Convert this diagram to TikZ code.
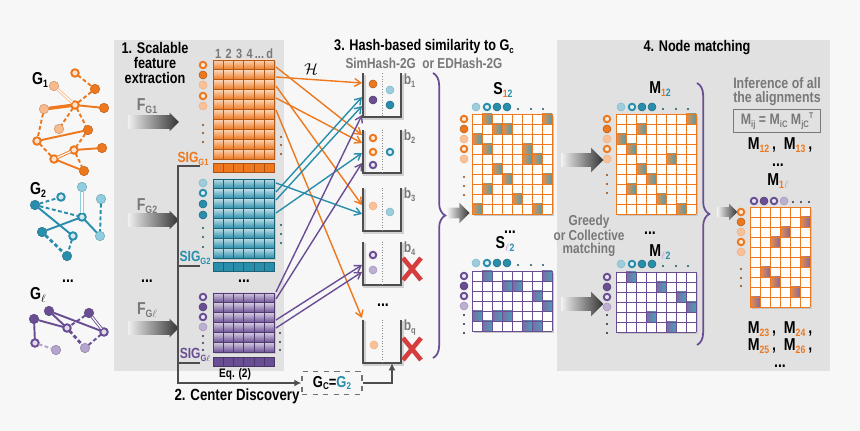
\documentclass[tikz,border=0pt]{standalone}
\usepackage{fontspec}
\setmainfont{Liberation Sans}[FakeStretch=0.82]
\usetikzlibrary{arrows.meta,positioning,shapes.arrows,decorations.pathreplacing}
\definecolor{bgGray}{RGB}{247,247,247}
\definecolor{panelGray}{RGB}{225,225,225}
\definecolor{hashOrange}{RGB}{238,120,30}
\definecolor{hashOrangeLight}{RGB}{249,186,140}
\definecolor{hashTeal}{RGB}{40,142,172}
\definecolor{hashTealLight}{RGB}{142,206,224}
\definecolor{hashPurple}{RGB}{106,78,148}
\definecolor{hashPurpleLight}{RGB}{180,164,206}
\definecolor{hashGrayText}{RGB}{120,120,120}
\definecolor{hashLine}{RGB}{78,78,78}
\definecolor{hashRed}{RGB}{214,62,62}

\newcommand{\dn}[1]{\raisebox{-0.35ex}{\scalebox{0.62}{#1}}}
\newcommand{\up}[1]{\raisebox{0.85ex}{\scalebox{0.55}{#1}}}
% feature matrix: x, y, last row, fill, lines
\newcommand{\featmat}[5]{%
  \fill[black!22] (#1+1.5,#2+1.5) rectangle ++(61.8,#3*9.9+9.9);
  \foreach \c in {0,...,5}
    \foreach \r in {0,...,#3}
      \draw[#5,line width=0.5pt,top color=#4!30!white,bottom color=#4]
        (#1+\c*10.3,#2+\r*9.9) rectangle ++(10.3,9.9);
}
% signature bar: x, y, fill, lines
\newcommand{\sigbar}[4]{%
  \foreach \c in {0,...,5}
    \draw[#4,line width=0.5pt,fill=#3] (#1+\c*10.3,#2) rectangle ++(10.3,9);
}
% alignment matrix: x, y, columns, rows, colour A, colour B, marked cells
\newcommand{\simmat}[7]{%
  \fill[black!22] (#1+2,#2+2) rectangle ++(#3*10,#4*10);
  \fill[white] (#1,#2) rectangle ++(#3*10,#4*10);
  \foreach \c/\r in {#7}
    \shade[left color=#5!85!white,right color=#6!85!white] (#1+\c*10,#2+\r*10) rectangle ++(10,10);
  \foreach \i in {0,...,#3}
    \draw[#6,line width=0.4pt] (#1+\i*10+0.7,#2) -- ++(0,#4*10);
  \foreach \j in {0,...,#4}
    \draw[#6,line width=0.4pt] (#1,#2+\j*10+0.7) -- ++(#3*10,0);
  \foreach \i in {0,...,#3}
    \draw[#5,line width=0.4pt] (#1+\i*10,#2) -- ++(0,#4*10);
  \foreach \j in {0,...,#4}
    \draw[#5,line width=0.4pt] (#1,#2+\j*10) -- ++(#3*10,0);
}

\begin{document}
\begin{tikzpicture}[x=0.02cm,y=-0.02cm,
  gn/.style={circle,inner sep=0pt,outer sep=0pt,minimum size=0.19cm,fill=#1,draw=#1!80!black,line width=0.3pt},
  gr/.style={circle,inner sep=0pt,outer sep=0pt,minimum size=0.15cm,fill=#1!20!white,draw=#1,line width=1.1pt},
  gline/.style={line width=1.1pt},
  gdash/.style={line width=1.1pt,dash pattern=on 2.2pt off 1.4pt},
  gdouble/.style={double=white,double distance=0.7pt,line width=0.5pt},
  mf/.style={circle,inner sep=0pt,outer sep=0pt,minimum size=0.16cm,fill=#1,draw=#1!75!black,line width=0.3pt},
  ml/.style={circle,inner sep=0pt,outer sep=0pt,minimum size=0.16cm,fill=#1!45!white,draw=#1!60!white,line width=0.3pt},
  mo/.style={circle,inner sep=0pt,outer sep=0pt,minimum size=0.13cm,fill=#1!15!white,draw=#1,line width=1.1pt},
  ttl/.style={font=\bfseries\fontsize{8.8}{8.3}\selectfont,align=center,inner sep=0pt},
  gtxt/.style={font=\bfseries\fontsize{8.2}{7.6}\selectfont,text=hashGrayText,align=center,inner sep=0pt},
  big/.style={font=\bfseries\fontsize{9.8}{10}\selectfont,inner sep=0pt},
  sml/.style={font=\bfseries\fontsize{7.6}{8}\selectfont,inner sep=0pt},
  fat/.style={single arrow,draw=none,inner xsep=0pt,outer sep=0pt,left color=black!6,right color=black!80},
  sigline/.style={hashLine,line width=1pt},
  hasharrow/.style={line width=0.8pt,-{Straight Barb[length=3.5pt,width=4.5pt]}},
  bucket/.style={minimum width=0.76cm,minimum height=0.87cm,inner sep=0pt,outer sep=0pt},
  blbl/.style={font=\bfseries\fontsize{8.4}{8}\selectfont,text=hashGrayText,inner sep=0pt,anchor=north west},
  redcross/.style={hashRed,line width=2.6pt},
  gcbox/.style={draw=hashLine!80,dashed,line width=0.8pt,minimum width=1.2cm,minimum height=0.46cm,
    font=\bfseries\fontsize{9}{9}\selectfont,inner sep=0pt},
  fbox/.style={draw=hashGrayText,line width=0.8pt,minimum width=1.74cm,minimum height=0.46cm,
    font=\bfseries\fontsize{8.6}{9}\selectfont,text=hashGrayText,inner sep=0pt}
]
  \useasboundingbox (0,0) rectangle (860,431);
  \fill[bgGray] (0,0) rectangle (860,431);
  \fill[panelGray] (114,40) rectangle (284,371);
  \fill[panelGray] (557,40) rectangle (830,371);

  % input graphs
  \node[big] (g1lbl) at (40,80) {G\dn{1}};
  \node[gr=hashOrange] (g1a) at (75,73) {};
  \node[gn=hashOrange] (g1b) at (95,89) {};
  \node[gn=hashOrangeLight] (g1c) at (54,86) {};
  \node[gr=hashOrange] (g1d) at (75,105) {};
  \node[gn=hashOrangeLight] (g1e) at (44,109) {};
  \node[gn=hashOrange] (g1f) at (104,108) {};
  \node[gn=hashOrangeLight] (g1g) at (59,129) {};
  \node[gn=hashOrange] (g1h) at (88,130) {};
  \node[gr=hashOrange] (g1i) at (37,141) {};
  \node[gr=hashOrange] (g1j) at (74,150) {};
  \node[gn=hashOrange] (g1k) at (102,148) {};
  \node[gr=hashOrange] (g1l) at (54,159) {};
  \node[gn=hashOrange] (g1m) at (84,171) {};
  \draw[gdash,hashOrange] (g1a) -- (g1b);
  \draw[gdouble,hashOrangeLight] (g1c) -- (g1d);
  \draw[gdash,hashOrange] (g1b) -- (g1d);
  \draw[gline,hashOrange,line width=1.9pt] (g1e) -- (g1d);
  \draw[gline,hashOrange] (g1d) -- (g1f);
  \draw[gdash,hashOrange] (g1d) -- (g1g);
  \draw[gdash,hashOrange] (g1d) -- (g1h);
  \draw[gdash,hashOrange] (g1e) -- (g1i);
  \draw[gline,hashOrange] (g1i) -- (g1h);
  \draw[gdash,hashOrange] (g1h) -- (g1j);
  \draw[gline,hashOrange] (g1j) -- (g1k);
  \draw[gdash,hashOrange] (g1i) -- (g1l);
  \draw[gdouble,hashOrange] (g1l) -- (g1j);
  \draw[gdash,hashOrange] (g1j) -- (g1m);
  \draw[gline,hashOrange] (g1l) -- (g1m);

  \node[big] (g2lbl) at (38,190) {G\dn{2}};
  \node[gn=hashTeal] (g2a) at (35,205) {};
  \node[gr=hashTeal] (g2b) at (61,197) {};
  \node[gn=hashTealLight] (g2c) at (82,187) {};
  \node[gn=hashTealLight] (g2d) at (101,199) {};
  \node[gr=hashTeal] (g2e) at (82,217) {};
  \node[gn=hashTeal] (g2f) at (42,232) {};
  \node[gr=hashTeal] (g2g) at (73,236) {};
  \node[gn=hashTealLight] (g2h) at (100,236) {};
  \node[gn=hashTeal] (g2i) at (67,256) {};
  \draw[gdash,hashTeal] (g2a) -- (g2b);
  \draw[gdash,hashTeal] (g2a) -- (g2e);
  \draw[gline,hashTeal] (g2a) -- (g2g);
  \draw[gdouble,hashTealLight,line width=0.8pt] (g2c) -- (g2e);
  \draw[gline,hashTeal] (g2e) -- (g2h);
  \draw[gdash,hashTeal] (g2d) -- (g2h);
  \draw[gline,hashTeal] (g2f) -- (g2e);
  \draw[gdash,hashTeal,line width=1.6pt] (g2f) -- (g2i);
  \draw[gdash,hashTeal] (g2g) -- (g2i);

  \node[big] (gdots) at (68,281) {...};
  \node[big] (g3lbl) at (38,295) {G\dn{$\ell$}};
  \node[gn=hashPurple] (g3a) at (49,311) {};
  \node[gn=hashPurple] (g3b) at (89,313) {};
  \node[gn=hashPurple] (g3c) at (34,319) {};
  \node[gr=hashPurple] (g3d) at (67,328) {};
  \node[gr=hashPurple] (g3e) at (104,332) {};
  \node[gr=hashPurple] (g3f) at (35,343) {};
  \node[gn=hashPurpleLight] (g3g) at (85,348) {};
  \node[gn=hashPurpleLight] (g3h) at (56,350) {};
  \draw[gline,hashPurple] (g3a) -- (g3d);
  \draw[gline,hashPurple] (g3a) -- (g3e);
  \draw[gline,hashPurple] (g3c) -- (g3d);
  \draw[gdash,hashPurple] (g3b) -- (g3d);
  \draw[gdouble,hashPurple] (g3b) -- (g3e);
  \draw[gline,hashPurple] (g3c) -- (g3f);
  \draw[gdash,hashPurpleLight] (g3f) -- (g3h);
  \draw[gdash,hashPurple,line width=1.6pt] (g3d) -- (g3g);
  \draw[gdash,hashPurple] (g3e) -- (g3g);

  % 1. feature extraction
  \node[ttl] (t1) at (155,63) {1. Scalable\\feature\\extraction};
  \node[sml,text=hashGrayText] (cols) at (244,54) {1\,\,2\,\,3\,\,4\,...\,d};
  \featmat{213}{60}{9}{hashOrange}{hashOrange!75!black}
  \sigbar{213}{163}{hashOrange}{hashOrange!70!black}
  \featmat{213}{179}{7}{hashTeal}{hashTeal!70!black}
  \sigbar{213}{262}{hashTeal}{hashTeal!70!black}
  \featmat{213}{293}{5}{hashPurple}{hashPurple!75!black}
  \sigbar{213}{357}{hashPurple}{hashPurple!70!black}
  \foreach \s/\y [count=\k] in {mo/65,mf/75,ml/85,mo/96,ml/106}
    \node[\s=hashOrange] (fo\k) at (203,\y) {};
  \foreach \s/\y [count=\k] in {ml/183,mo/193,mf/204,mf/215}
    \node[\s=hashTeal] (ft\k) at (203,\y) {};
  \foreach \s/\y [count=\k] in {mo/297,mf/307,mo/317,ml/327}
    \node[\s=hashPurple] (fp\k) at (203,\y) {};
  \foreach \y in {125,133,142} \fill[hashOrange!60!black] (203,\y) circle (1.1);
  \foreach \y in {228,237,247} \fill[hashTeal!60!black] (203,\y) circle (1.1);
  \foreach \y in {336,343,350} \fill[hashPurple!60!black] (203,\y) circle (1.1);
  \foreach \y in {137,145,154} \fill[hashOrange!60!black] (281,\y) circle (1.1);
  \foreach \y in {225,234,243} \fill[hashTeal!60!black] (281,\y) circle (1.1);
  \foreach \y in {333,342,350} \fill[hashPurple!60!black] (280,\y) circle (1.1);
  \node[big] (fdots) at (147,281) {...};
  \node[big] (mdots) at (244,281) {...};

  \node[fat,inner ysep=0.13cm,single arrow head extend=0.05cm,minimum height=1.02cm] (fg1) at (150,122) {};
  \node[fat,inner ysep=0.13cm,single arrow head extend=0.05cm,minimum height=1.02cm] (fg2) at (150,220) {};
  \node[fat,inner ysep=0.13cm,single arrow head extend=0.05cm,minimum height=1.02cm] (fg3) at (150,328) {};
  \node[big,text=hashGrayText] (fg1l) at (147,106) {F\dn{G1}};
  \node[big,text=hashGrayText] (fg2l) at (147,206) {F\dn{G2}};
  \node[big,text=hashGrayText] (fg3l) at (147,310) {F\dn{G$\ell$}};

  % 2. center discovery
  \node[sml,text=hashOrange,font=\bfseries\fontsize{8.4}{8}\selectfont] (sig1l) at (193,159) {SIG\dn{G1}};
  \node[sml,text=hashTeal,font=\bfseries\fontsize{8.4}{8}\selectfont] (sig2l) at (195,258) {SIG\dn{G2}};
  \node[sml,text=hashPurple,font=\bfseries\fontsize{8.4}{8}\selectfont] (sig3l) at (195,355) {SIG\dn{G$\ell$}};
  \coordinate (sig1) at (200,166);
  \coordinate (sig2) at (200,266);
  \coordinate (sig3) at (200,363);
  \coordinate (spine) at (178,383);
  \node[gcbox] (gc) at (332,383) {G\dn{C}=\textcolor{hashTeal}{G\dn{2}}};
  \draw[sigline,-{Latex[length=4pt,width=4pt]}] (sig1) -| (spine) -- (gc.west);
  \draw[sigline] (sig2) -- (sig2 -| spine);
  \draw[sigline] (sig3) -- (sig3 -| spine);
  \node[sml,font=\bfseries\fontsize{7}{7}\selectfont] (eq) at (235,374) {Eq. (2)};
  \node[ttl,font=\bfseries\fontsize{9.2}{9}\selectfont] (t2) at (237,396) {2. Center Discovery};

  % 3. hashing into buckets
  \node[ttl] (t3) at (424,47) {3. Hash-based similarity to G\dn{c}};
  \node[gtxt] (t3b) at (424,63) {SimHash-2G\ \ or EDHash-2G};
  \node[font=\fontsize{9}{9}\selectfont] (hsym) at (311,69) {$\mathcal{H}$};
  \foreach \ys/\ye/\cl [count=\k] in {67/135/hashOrange,77/83/hashOrange,86/205/hashOrange,98/143/hashOrange,
      110/318/hashOrange,183/214/hashTeal,192/97/hashTeal,200/106/hashTeal,213/153/hashTeal,
      292/115/hashPurple,299/163/hashPurple,320/265/hashPurple,328/272/hashPurple}{
    \coordinate (hs\k) at (276,\ys);
    \coordinate (he\k) at (362,\ye);
    \draw[hasharrow,\cl] (hs\k) -- (he\k);
  }
  \node[bucket] (b1) at (382,95) {};
  \node[bucket] (b2) at (382,151.5) {};
  \node[bucket] (b3) at (382,209.5) {};
  \node[bucket] (b4) at (382,263.5) {};
  \node[bucket] (bq) at (382,341.5) {};
  \foreach \b in {b1,b2,b3,b4,bq}{
    \draw[black!18,line width=1.6pt] ([shift={(1.5,1.5)}]\b.north west) -- ([shift={(1.5,1.5)}]\b.south west)
      -- ([shift={(1.5,1.5)}]\b.south east) -- ([shift={(1.5,1.5)}]\b.north east);
    \draw[hashLine,line width=1.1pt] (\b.north west) -- (\b.south west) -- (\b.south east) -- (\b.north east);
    \draw[black!45,densely dotted,line width=0.5pt] (\b.north) -- (\b.south);
  }
  \node[blbl] (b1l) at ([xshift=0.05cm]b1.north east) {b\dn{1}};
  \node[blbl] (b2l) at ([xshift=0.05cm]b2.north east) {b\dn{2}};
  \node[blbl] (b3l) at ([xshift=0.05cm]b3.north east) {b\dn{3}};
  \node[blbl] (b4l) at ([xshift=0.05cm]b4.north east) {b\dn{4}};
  \node[blbl] (bql) at ([xshift=0.05cm]bq.north east) {b\dn{q}};
  \node[big] (bdots) at (383,305) {...};
  \node[mf=hashOrange] (c1) at (373,84) {};
  \node[mf=hashPurple] (c2) at (373,100) {};
  \node[ml=hashTeal] (c3) at (390,90) {};
  \node[mf=hashTeal] (c4) at (390,105) {};
  \node[mo=hashOrange] (c5) at (373,138) {};
  \node[mo=hashOrange] (c6) at (373,152) {};
  \node[mo=hashPurple] (c7) at (373,165) {};
  \node[mo=hashTeal] (c8) at (390,152) {};
  \node[ml=hashOrange] (c9) at (373,206) {};
  \node[ml=hashTeal] (c10) at (390,212) {};
  \node[mo=hashPurple] (c11) at (373,255) {};
  \node[ml=hashPurple] (c12) at (373,270) {};
  \node[ml=hashOrange] (c13) at (374,345) {};
  \coordinate (x4) at (412,269);
  \coordinate (xq) at (412,349);
  \foreach \x in {x4,xq}
    \draw[redcross] ([shift={(-9,-11)}]\x) -- ([shift={(9,11)}]\x) ([shift={(9,-11)}]\x) -- ([shift={(-9,11)}]\x);
  \draw[sigline,-{Latex[length=4pt,width=4pt]}] (gc.east) -| ([xshift=0.2cm]bq.south);
  \draw[hashPurple,line width=1pt,decorate,decoration={brace,amplitude=7pt}] (433,73) -- (433,358);
  \node[fat,inner ysep=0.1cm,single arrow head extend=0.1cm,minimum height=0.44cm] (toS) at (456,213) {};

  % similarity matrices
  \node[big] (s12) at (503,90) {S\dn{\textcolor{hashOrange}{1}\textcolor{hashTeal}{2}}};
  \simmat{472}{114}{8}{10}{hashOrange}{hashTeal}{1/0,7/0,2/1,3/1,0/2,1/3,5/3,5/4,6/4,2/5,3/6,7/6,1/7,4/8,0/9,6/9}
  \node[big] (sdots) at (510,232) {...};
  \node[big] (sl2) at (505,244) {S\dn{\textcolor{hashPurpleLight}{$\ell$}\textcolor{hashTeal}{2}}};
  \simmat{472}{271}{8}{6}{hashPurple}{hashTeal}{1/0,7/0,3/1,4/1,6/2,7/3,0/4,2/4,3/4,1/5,5/5,6/5}
  \foreach \s/\x [count=\k] in {ml/476,mo/487,mf/497,mf/507}{
    \node[\s=hashTeal] (sh\k) at (\x,107) {};
    \node[\s=hashTeal] (slh\k) at (\x,263) {};
    \node[\s=hashTeal] (mh\k) at (\x+145,107) {};
    \node[\s=hashTeal] (mlh\k) at (\x+145,264) {};
  }
  \foreach \x in {518,531,543} {
    \fill[hashTeal!60!black] (\x,109) circle (1.1);
    \fill[hashTeal!60!black] (\x,265) circle (1.1);
    \fill[hashTeal!60!black] (\x+145,109) circle (1.1);
    \fill[hashTeal!60!black] (\x+145,266) circle (1.1);
  }
  \foreach \s/\y [count=\k] in {mo/119,mf/129,ml/139,mo/149,ml/159}{
    \node[\s=hashOrange] (sr\k) at (464,\y) {};
    \node[\s=hashOrange] (mr\k) at (607,\y) {};
  }
  \foreach \s/\y [count=\k] in {mo/276,mf/286,mo/296,ml/306}{
    \node[\s=hashPurple] (slr\k) at (464,\y) {};
    \node[\s=hashPurple] (mlr\k) at (607,\y+1) {};
  }
  \foreach \y in {177,186,195} {
    \fill[hashOrange!60!black] (464,\y) circle (1.1);
    \fill[hashOrange!60!black] (607,\y-2) circle (1.1);
  }
  \foreach \y in {315,324,333} {
    \fill[hashPurple!40!black] (464,\y) circle (1.1);
    \fill[hashPurple!40!black] (607,\y) circle (1.1);
  }
  \node[fat,inner ysep=0.13cm,single arrow head extend=0.11cm,minimum height=0.84cm] (toM1) at (579,160) {};
  \node[fat,inner ysep=0.13cm,single arrow head extend=0.11cm,minimum height=0.84cm] (toM2) at (579,304) {};
  \node[gtxt] (greedy) at (589,236) {Greedy\\or Collective\\matching};

  % 4. node matching
  \node[ttl] (t4) at (697,48) {4. Node matching};
  \node[big] (m12) at (660,89) {M\dn{\textcolor{hashOrange}{1}\textcolor{hashTeal}{2}}};
  \simmat{616}{114}{8}{10}{hashOrange}{hashTeal}{7/0,2/1,0/2,1/3,5/4,2/5,3/6,1/7,4/8,6/9}
  \node[big] (mdots2) at (650,233) {...};
  \node[big] (ml2) at (660,252) {M\dn{\textcolor{hashPurpleLight}{$\ell$}\textcolor{hashTeal}{2}}};
  \simmat{616}{272}{8}{6}{hashPurple}{hashTeal}{1/0,4/1,6/2,7/3,3/4,5/5}
  \draw[hashPurple,line width=1pt,decorate,decoration={brace,amplitude=7pt}] (697,83) -- (697,345);
  \node[fat,inner ysep=0.09cm,single arrow head extend=0.07cm,minimum height=0.4cm] (toInf) at (725,212) {};
  \node[gtxt,font=\bfseries\fontsize{8.6}{8}\selectfont] (inf) at (777,92) {Inference of all\\the alignments};
  \node[fbox] (rule) at (777,121) {M\dn{ij} = M\dn{iC} M\dn{jC}\up{T}};
  \node[big] (l1) at (780,145) {M\dn{\textcolor{hashOrange}{12}}\,,\ \ M\dn{\textcolor{hashOrange}{13}}\,,};
  \node[big] (l1dots) at (778,165) {...};
  \node[big] (m1l) at (778,181) {M\dn{\textcolor{hashOrange}{1}\textcolor{hashPurpleLight}{$\ell$}}};
  \simmat{750}{207}{6}{10}{hashOrange}{hashPurple}{5/1,3/2,2/3,5/5,1/6,2/7,4/8,0/9}
  \foreach \s/\x [count=\k] in {mo/754,mf/764,mo/774,ml/784}
    \node[\s=hashPurple] (qh\k) at (\x,201) {};
  \foreach \x in {793,801,809} \fill[hashPurple!50!black] (\x,202) circle (1.1);
  \foreach \s/\y [count=\k] in {mo/212,mf/222,ml/232,mo/242,ml/252}
    \node[\s=hashOrange] (qr\k) at (741,\y) {};
  \foreach \y in {269,278,286} \fill[hashOrange!60!black] (741,\y) circle (1.1);
  \node[big] (l2) at (780,329) {M\dn{\textcolor{hashOrange}{23}}\,,\ \ M\dn{\textcolor{hashOrange}{24}}\,,};
  \node[big] (l3) at (780,346) {M\dn{\textcolor{hashOrange}{25}}\,,\ \ M\dn{\textcolor{hashOrange}{26}}\,,};
  \node[big] (l3dots) at (780,366) {...};
\end{tikzpicture}
\end{document}
